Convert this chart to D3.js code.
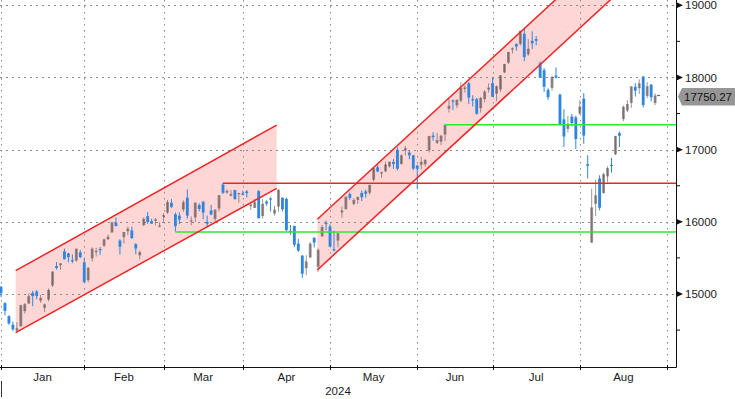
<!DOCTYPE html>
<html>
<head>
<meta charset="utf-8">
<script src="https://cdn.jsdelivr.net/npm/d3@7"></script>
<style>
    html, body { margin: 0; padding: 0; background: #fff; }
    svg { display: block; font-family: "Liberation Sans", Arial, sans-serif; }
</style>
</head>
<body>
<svg id="chart" width="735" height="399"></svg>
<script>

// Daily candles [open, high, low, close], one array per month (trading days only)
var dec23 = [
    [15099, 15111, 14955, 15011]
];
var jan = [
    [14873, 14887, 14706, 14766], [14692, 14705, 14574, 14592], [14574, 14619, 14489, 14510],
    [14495, 14609, 14477, 14524], [14555, 14851, 14545, 14844], [14762, 14874, 14730, 14858],
    [14868, 15009, 14865, 14970], [15016, 15044, 14830, 14970], [15033, 15055, 14927, 14973],
    [14909, 14990, 14877, 14944], [14808, 14868, 14751, 14856], [14925, 15076, 14898, 15056],
    [15119, 15311, 15096, 15311], [15387, 15442, 15339, 15360], [15398, 15426, 15337, 15426],
    [15591, 15630, 15480, 15482], [15563, 15570, 15440, 15511], [15470, 15550, 15427, 15455],
    [15464, 15628, 15448, 15628], [15576, 15611, 15500, 15510], [15439, 15503, 15164, 15164]
];
var feb = [
    [15196, 15375, 15162, 15362], [15494, 15648, 15448, 15629], [15580, 15640, 15520, 15598],
    [15623, 15651, 15543, 15609], [15670, 15768, 15650, 15757], [15760, 15822, 15748, 15794],
    [15855, 16000, 15845, 15991], [15988, 16060, 15935, 15943], [15740, 15760, 15547, 15656],
    [15788, 15860, 15700, 15859], [15870, 15935, 15815, 15906], [15880, 15934, 15760, 15776],
    [15690, 15705, 15550, 15631], [15536, 15600, 15480, 15581], [15956, 16062, 15939, 16042],
    [16078, 16134, 15973, 15997], [16009, 16043, 15970, 15976], [16014, 16052, 15951, 16035],
    [15947, 15995, 15924, 15948], [16072, 16119, 15999, 16092]
];
var mar = [
    [16128, 16302, 16110, 16275], [16263, 16316, 16190, 16208], [16104, 16129, 15865, 15940],
    [16085, 16132, 15969, 16032], [16171, 16299, 16138, 16273], [16335, 16449, 16043, 16085],
    [16007, 16075, 15952, 16019], [16062, 16271, 15999, 16266], [16231, 16257, 16145, 16178],
    [16277, 16291, 16035, 16129], [16000, 16087, 15923, 15973], [16157, 16235, 16090, 16103],
    [16040, 16175, 16001, 16167], [16185, 16369, 16143, 16369], [16515, 16538, 16386, 16402],
    [16405, 16451, 16386, 16429], [16362, 16438, 16349, 16384], [16440, 16442, 16306, 16316],
    [16395, 16400, 16264, 16400], [16392, 16433, 16364, 16379]
];
var apr = [
    [16422, 16439, 16337, 16397], [16216, 16263, 16164, 16240], [16192, 16316, 16191, 16277],
    [16425, 16439, 16049, 16049], [16080, 16315, 16047, 16249], [16280, 16298, 16223, 16254],
    [16324, 16341, 16143, 16307], [16116, 16223, 16085, 16170], [16211, 16456, 16142, 16442],
    [16334, 16337, 16144, 16175], [16317, 16337, 15871, 15885], [15876, 15955, 15822, 15865],
    [15942, 15949, 15650, 15683], [15698, 15764, 15581, 15602], [15533, 15533, 15222, 15282],
    [15358, 15538, 15259, 15451], [15507, 15720, 15497, 15697], [15779, 15787, 15645, 15713],
    [15378, 15633, 15308, 15612], [15800, 15957, 15791, 15928], [15986, 16016, 15882, 15983],
    [15935, 15965, 15652, 15658]
];
var may = [
    [15620, 15877, 15589, 15605], [15739, 15852, 15645, 15841], [16130, 16212, 16055, 16156],
    [16175, 16350, 16173, 16349], [16385, 16407, 16300, 16333], [16249, 16330, 16230, 16303],
    [16303, 16346, 16250, 16346], [16400, 16434, 16288, 16341], [16422, 16446, 16333, 16388],
    [16404, 16517, 16376, 16511], [16583, 16747, 16558, 16742], [16756, 16789, 16686, 16698],
    [16682, 16697, 16610, 16686], [16700, 16836, 16687, 16795], [16768, 16833, 16751, 16833],
    [16830, 16870, 16733, 16802], [16997, 17032, 16711, 16736], [16803, 16935, 16792, 16921],
    [16988, 17051, 16921, 17020], [16960, 16983, 16867, 16921], [16922, 16928, 16716, 16737],
    [16780, 16790, 16450, 16735]
];
var jun = [
    [16790, 16899, 16726, 16829], [16800, 16870, 16767, 16857], [16990, 17191, 16960, 17188],
    [17195, 17242, 17123, 17173], [17094, 17235, 17077, 17133], [17111, 17207, 17064, 17193],
    [17210, 17343, 17117, 17344], [17566, 17707, 17516, 17608], [17682, 17694, 17547, 17668],
    [17614, 17699, 17575, 17689], [17677, 17936, 17656, 17857], [17840, 17890, 17791, 17862],
    [17919, 17936, 17630, 17722], [17699, 17754, 17597, 17689], [17700, 17718, 17484, 17497],
    [17575, 17730, 17513, 17718], [17702, 17825, 17657, 17805], [17832, 17918, 17791, 17859],
    [17921, 17996, 17730, 17733]
];
var jul = [
    [17776, 17889, 17671, 17879], [17834, 18032, 17802, 18029], [18071, 18188, 18059, 18188],
    [18207, 18356, 18185, 18353], [18385, 18416, 18331, 18404], [18463, 18474, 18372, 18429],
    [18465, 18647, 18441, 18647], [18605, 18671, 18225, 18283], [18320, 18530, 18300, 18398],
    [18507, 18641, 18391, 18473], [18533, 18574, 18445, 18509], [18196, 18222, 17995, 17997],
    [18100, 18131, 17800, 17871], [17826, 17852, 17690, 17727], [17856, 18021, 17818, 18008],
    [18026, 18140, 17987, 17997], [17761, 17775, 17339, 17342], [17420, 17560, 17036, 17182],
    [17289, 17466, 17241, 17358], [17458, 17495, 17320, 17370], [17447, 17470, 17010, 17147],
    [17500, 17690, 17488, 17599]
];
var aug = [
    [17707, 17785, 17083, 17194], [16800, 16925, 16600, 16776], [15712, 16459, 15708, 16200],
    [16250, 16581, 16078, 16367], [16600, 16645, 16158, 16196], [16400, 16681, 16390, 16660],
    [16630, 16770, 16545, 16745], [16789, 16886, 16681, 16781], [16937, 17192, 16925, 17188],
    [17229, 17252, 17036, 17193], [17424, 17611, 17395, 17595], [17541, 17687, 17520, 17632],
    [17650, 17877, 17578, 17877], [17870, 17922, 17735, 17817], [17853, 17974, 17770, 17919],
    [18013, 18017, 17585, 17619], [17745, 17937, 17712, 17878], [17900, 17910, 17668, 17726],
    [17647, 17780, 17616, 17750.27]
];

// Axis: months and how many trading days each has (Aug runs to the 30th)
var monthLabels = ['Jan', 'Feb', 'Mar', 'Apr', 'May', 'Jun', 'Jul', 'Aug'];
var monthTradingDays = [21, 20, 20, 22, 22, 19, 22, 22];
var yearLabel = '2024';
var yTicks = [15000, 16000, 17000, 18000, 19000];
var yMinorTicks = [14500, 15500, 16500, 17500, 18500];

// Trend channels: [day index, lower line value, upper line value]
var channelJanMar = [[3.7, 14464, 15323], [69.55, 16464, 17341]];
var channelAprJul = [[79.8, 15333, 16035], [156.2, 19201, 19903]];

// Horizontal levels: [start day index, value]
var redLevels = [[56, 16535]];
var greenLevels = [[44, 15860], [112, 17345]];


var candles = [].concat(dec23, jan, feb, mar, apr, may, jun, jul, aug).map(function(d, i){
    return { i: i, open: d[0], high: d[1], low: d[2], close: d[3] };
});
var lastCandle = candles[candles.length - 1];

var W = 735, H = 399,
    plotRight = 676, plotBottom = 367;

var totalDays = d3.sum(monthTradingDays);
var x = d3.scaleLinear().domain([0, totalDays]).range([1, 667]);
var y = d3.scaleLinear().domain([15000, 19000]).range([294, 5.3]);
var step = x(1) - x(0);

var svg = d3.select('#chart');

svg.append('defs').append('clipPath').attr('id', 'plot-clip')
    .append('rect').attr('x', 0).attr('y', 0).attr('width', plotRight).attr('height', plotBottom);

var plot = svg.append('g').attr('clip-path', 'url(#plot-clip)');

// month boundaries = index of last trading day of the previous month
var monthTicks = [0];
monthTradingDays.forEach(function(n){ monthTicks.push(monthTicks[monthTicks.length - 1] + n); });

//  Channels (fill)
function channelArea(c) {
    return [
        [x(c[0][0]), y(c[0][1])], [x(c[1][0]), y(c[1][1])],
        [x(c[1][0]), y(c[1][2])], [x(c[0][0]), y(c[0][2])]
    ];
}
plot.selectAll('.channel-fill')
    .data([channelJanMar, channelAprJul])
    .enter().append('polygon')
    .attr('class', 'channel-fill')
    .attr('points', function(c){ return channelArea(c).join(' '); })
    .attr('fill', '#ff0000')
    .attr('fill-opacity', 0.16);

//  Grid
plot.selectAll('.hgrid')
    .data(yTicks)
    .enter().append('line')
    .attr('x1', 0).attr('x2', plotRight)
    .attr('y1', function(d){ return Math.round(y(d)) + 0.5; })
    .attr('y2', function(d){ return Math.round(y(d)) + 0.5; })
    .attr('stroke', '#8a8a8a').attr('stroke-width', 1)
    .attr('stroke-dasharray', '2,4');

plot.selectAll('.vgrid')
    .data(monthTicks)
    .enter().append('line')
    .attr('x1', function(d){ return Math.round(x(d)) + 0.5; })
    .attr('x2', function(d){ return Math.round(x(d)) + 0.5; })
    .attr('y1', 0).attr('y2', plotBottom)
    .attr('stroke', '#8a8a8a').attr('stroke-width', 1)
    .attr('stroke-dasharray', '1.5,4.5');

//  Candles
var upColor = 'rgba(95, 85, 85, 0.62)',
    downColor = '#2f86e0',
    bodyWidth = step * 0.72;

var candle = plot.selectAll('.candle')
    .data(candles)
    .enter().append('g')
    .attr('class', 'candle');

candle.append('line')
    .attr('x1', function(d){ return x(d.i); })
    .attr('x2', function(d){ return x(d.i); })
    .attr('y1', function(d){ return y(d.high); })
    .attr('y2', function(d){ return y(d.low); })
    .attr('stroke', function(d){ return d.close >= d.open ? upColor : downColor; })
    .attr('stroke-width', 1);

candle.append('rect')
    .attr('x', function(d){ return x(d.i) - bodyWidth / 2; })
    .attr('width', bodyWidth)
    .attr('y', function(d){ return y(Math.max(d.open, d.close)); })
    .attr('height', function(d){ return Math.max(1.2, Math.abs(y(d.open) - y(d.close))); })
    .attr('fill', function(d){ return d.close >= d.open ? upColor : downColor; });

// last price marker next to the final candle
plot.append('line')
    .attr('x1', x(lastCandle.i) + 2).attr('x2', x(lastCandle.i) + 5)
    .attr('y1', y(lastCandle.close)).attr('y2', y(lastCandle.close))
    .attr('stroke', '#666').attr('stroke-width', 1.2);

//  Horizontal levels
function drawLevels(levels, color) {
    plot.selectAll(null)
        .data(levels)
        .enter().append('line')
        .attr('x1', function(d){ return x(d[0]); })
        .attr('x2', plotRight)
        .attr('y1', function(d){ return y(d[1]); })
        .attr('y2', function(d){ return y(d[1]); })
        .attr('stroke', color)
        .attr('stroke-width', 1.6);
}
drawLevels(redLevels, '#ee2424');
drawLevels(greenLevels, '#2ee82e');

//  Channel lines
[channelJanMar, channelAprJul].forEach(function(c){
    [1, 2].forEach(function(k){
        plot.append('line')
            .attr('x1', x(c[0][0])).attr('y1', y(c[0][k]))
            .attr('x2', x(c[1][0])).attr('y2', y(c[1][k]))
            .attr('stroke', '#ee2424').attr('stroke-width', 1.5);
    });
});

//  Axes frame
svg.append('line')
    .attr('x1', 0).attr('x2', plotRight + 0.5)
    .attr('y1', plotBottom + 0.5).attr('y2', plotBottom + 0.5)
    .attr('stroke', '#111');
svg.append('line')
    .attr('x1', plotRight + 0.5).attr('x2', plotRight + 0.5)
    .attr('y1', 0).attr('y2', plotBottom + 0.5)
    .attr('stroke', '#111');

// x ticks and labels
svg.selectAll('.xtick')
    .data(monthTicks)
    .enter().append('line')
    .attr('x1', function(d){ return Math.round(x(d)) + 0.5; })
    .attr('x2', function(d){ return Math.round(x(d)) + 0.5; })
    .attr('y1', plotBottom - 2).attr('y2', plotBottom + 3)
    .attr('stroke', '#111');

svg.selectAll('.xlabel')
    .data(monthLabels)
    .enter().append('text')
    .attr('x', function(d, i){ return x((monthTicks[i] + monthTicks[i + 1]) / 2); })
    .attr('y', 381)
    .attr('text-anchor', 'middle')
    .attr('font-size', '11.5px')
    .attr('fill', '#1c1c1c')
    .text(function(d){ return d; });

svg.append('text')
    .attr('x', plotRight / 2).attr('y', 395)
    .attr('text-anchor', 'middle')
    .attr('font-size', '11.5px')
    .attr('fill', '#1c1c1c')
    .text(yearLabel);

// year separator
svg.append('line')
    .attr('x1', Math.round(x(0)) + 0.5).attr('x2', Math.round(x(0)) + 0.5)
    .attr('y1', 381).attr('y2', 397)
    .attr('stroke', '#333');

// y ticks and labels
svg.selectAll('.ymajor')
    .data(yTicks)
    .enter().append('polygon')
    .attr('points', function(d){
        var ty = y(d);
        return [[plotRight, ty - 3.2], [plotRight + 7, ty], [plotRight, ty + 3.2]].join(' ');
    })
    .attr('fill', '#111');

svg.selectAll('.yminor')
    .data(yMinorTicks)
    .enter().append('line')
    .attr('x1', plotRight).attr('x2', plotRight + 4)
    .attr('y1', function(d){ return y(d); })
    .attr('y2', function(d){ return y(d); })
    .attr('stroke', '#111');

svg.selectAll('.ylabel')
    .data(yTicks)
    .enter().append('text')
    .attr('x', plotRight + 9)
    .attr('y', function(d){ return y(d); })
    .attr('dy', '0.36em')
    .attr('font-size', '11.5px')
    .attr('fill', '#1c1c1c')
    .text(function(d){ return d; });

// last price label
var ly = y(lastCandle.close);
svg.append('polygon')
    .attr('points', [[plotRight + 2, ly + 1], [plotRight + 6, ly - 7.5], [W, ly - 7.5], [W, ly + 10], [plotRight + 6, ly + 10]].join(' '))
    .attr('fill', '#969696');
svg.append('text')
    .attr('x', plotRight + 8)
    .attr('y', ly + 1)
    .attr('dy', '0.36em')
    .attr('font-size', '11.5px')
    .attr('fill', '#141414')
    .text(d3.format('.2f')(lastCandle.close));

</script>
</body>
</html>
